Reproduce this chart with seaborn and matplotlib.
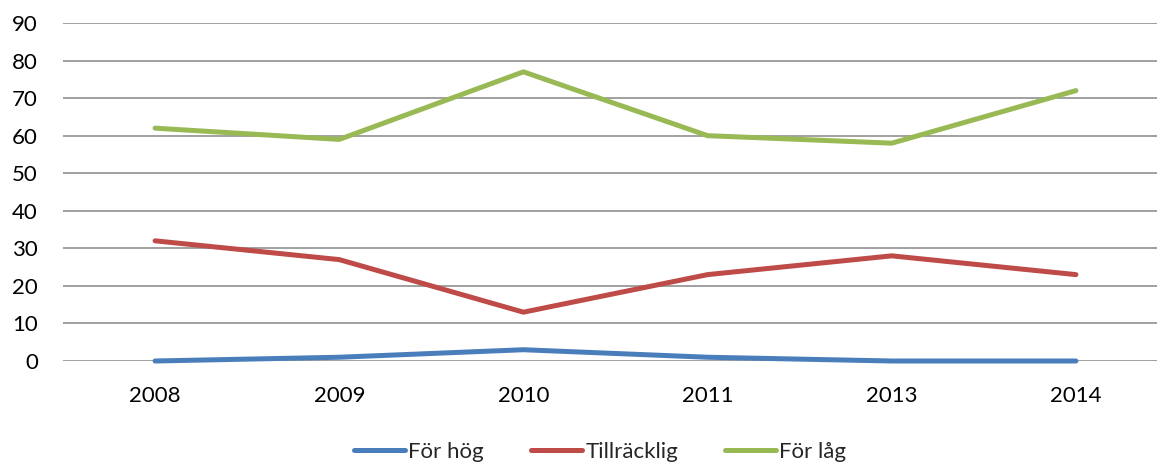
import pandas as pd
import matplotlib
matplotlib.use('Agg')
import matplotlib.pyplot as plt
import seaborn as sns

# Data
years = ['2008', '2009', '2010', '2011', '2013', '2014']
for_hog = [0, 1, 3, 1, 0, 0]
tillracklig = [32, 27, 13, 23, 28, 23]
for_lag = [62, 59, 77, 60, 58, 72]
series_names = ['För hög', 'Tillräcklig', 'För låg']
colors = ['#4A7EBB', '#BE4B48', '#98B954']

# Long format for seaborn
df = pd.DataFrame({
    'År': years * 3,
    'Värde': for_hog + tillracklig + for_lag,
    'Serie': [s for s in series_names for _ in years],
})

sns.set_style('white')
plt.rcParams['font.family'] = ['Lato', 'DejaVu Sans']

W, H = 1157, 466
fig = plt.figure(figsize=(W / 100, H / 100), dpi=100)
ax = fig.add_axes([63 / W, 1 - 361 / H, (W - 63) / W, (361 - 23) / H])

sns.lineplot(data=df, x='År', y='Värde', hue='Serie', palette=colors,
             linewidth=3.6, sort=False, ax=ax, legend=False,
             solid_capstyle='round', solid_joinstyle='round')
for line in ax.lines:
    line.set_clip_on(False)

ax.set_ylim(0, 90)
ax.set_yticks(range(0, 91, 10))
ax.set_xlim(-0.5, 5.5 - 11 / 184)
ax.set_xlabel('')
ax.set_ylabel('')
ax.yaxis.grid(True, color='#868686', linewidth=1.1)
ax.set_axisbelow(True)
for s in ax.spines.values():
    s.set_visible(False)
ax.tick_params(axis='y', length=0, pad=18, labelsize=16, labelcolor='black')
ax.tick_params(axis='x', length=0, pad=18, labelsize=16, labelcolor='black')

# Legend at the bottom
handles = [plt.Line2D([], [], color=c, linewidth=3.6, solid_capstyle='round') for c in colors]
fig.legend(handles, series_names, loc='center', bbox_to_anchor=(600 / W, 1 - 452 / H),
           ncol=3, frameon=False, fontsize=16, handlelength=2.3,
           handletextpad=0.15, columnspacing=2.1)

fig.savefig('out.png', dpi=100)
